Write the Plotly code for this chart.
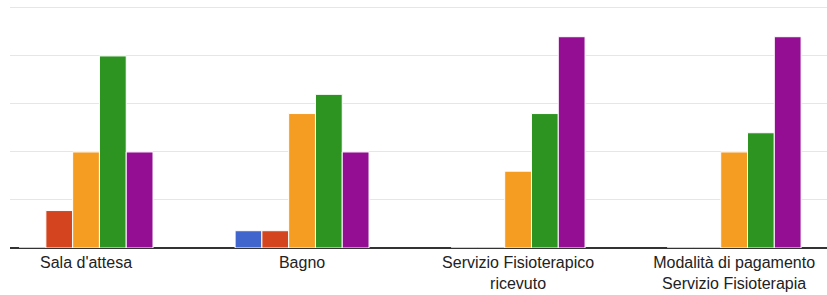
import plotly.graph_objects as go

categories = ["Sala d'attesa", "Bagno", "Servizio Fisioterapico<br>ricevuto", "Modalità di pagamento<br>Servizio Fisioterapia"]
series_names = ["Serie 1", "Serie 2", "Serie 3", "Serie 4", "Serie 5"]
blue = [0, 1.8, 0, 0]
red = [3.9, 1.8, 0, 0]
orange = [10, 14, 8, 10]
green = [20, 16, 14, 12]
purple = [10, 10, 22, 22]
colors = ["#4065cc", "#d4441f", "#f59c22", "#2e9421", "#940e94"]

fig = go.Figure()
for name, vals, col in zip(series_names, [blue, red, orange, green, purple], colors):
    fig.add_trace(go.Bar(x=categories, y=vals, name=name, marker=dict(color=col, line=dict(color="white", width=1))))

fig.update_layout(
    width=827, height=295,
    margin=dict(l=10, r=0, t=6, b=47),
    paper_bgcolor="white", plot_bgcolor="white",
    barmode="group", bargap=0.38, bargroupgap=0,
    showlegend=False,
    font=dict(family="Arial, Liberation Sans", size=16, color="#222222"),
    xaxis=dict(range=[-0.352, 3.43], showgrid=False, ticks="", showline=False, automargin=False,
               ticklabelstandoff=3, tickfont=dict(size=16, color="#222222")),
    yaxis=dict(range=[0, 25.2], dtick=5, showticklabels=False, gridcolor="#e6e6e6", gridwidth=1,
               zeroline=True, zerolinecolor="#333333", zerolinewidth=1.5, showline=False),
)
fig.write_html("out.html", config={"displayModeBar": False},
               post_script="document.body.style.margin='0';")
